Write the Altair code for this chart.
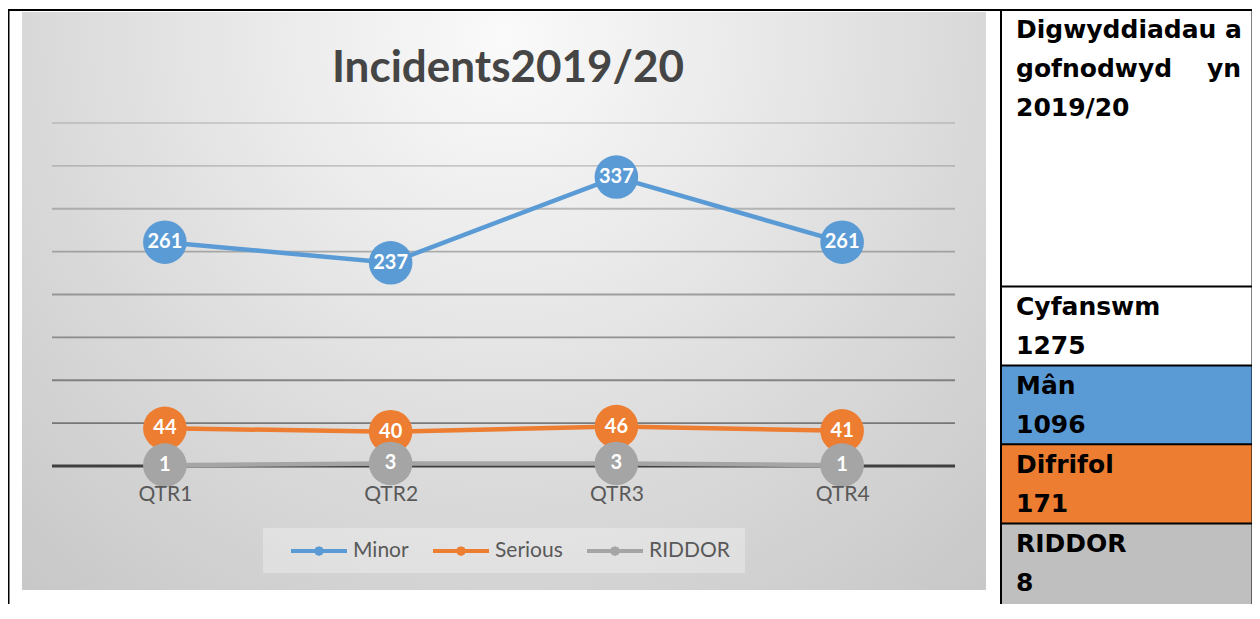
import altair as alt
import pandas as pd

# ---------------- data ----------------
quarters = ["QTR1", "QTR2", "QTR3", "QTR4"]
series_names = ["Minor", "Serious", "RIDDOR"]
minor = [261, 237, 337, 261]
serious = [44, 40, 46, 41]
riddor = [1, 3, 3, 1]
series_colors = ["#5B9BD5", "#ED7D31", "#A5A5A5"]
grid_values = [50, 100, 150, 200, 250, 300, 350, 400]
axis_values = [0]
title_text = "Incidents2019/20"
header_lines = ["Digwyddiadau a", "gofnodwyd yn", "2019/20"]
summary_labels = ["Cyfanswm", "Mân", "Difrifol", "RIDDOR"]
summary_fills = ["#FFFFFF", "#5B9BD5", "#ED7D31", "#BFBFBF"]

rows = []
for name, vals in zip(series_names, [minor, serious, riddor]):
    for q, v in zip(quarters, vals):
        rows.append({"quarter": q, "series": name, "value": v})
df = pd.DataFrame(rows)
totals = [sum(minor) + sum(serious) + sum(riddor), sum(minor), sum(serious), sum(riddor)]

# ---------------- layout ----------------
W, H = 903, 343          # plot area
PL, PT = 44, 115         # plot origin inside canvas
CW, CH = 1244, 596       # canvas size


def px(X):
    return X - 52


def py(Y):
    return Y - 123


one = pd.DataFrame({"k": [0]})
yscale = alt.Scale(domain=[0, 400], nice=False, zero=True)

x_enc = alt.X(
    "quarter:N",
    sort=quarters,
    scale=alt.Scale(type="point", padding=0.5),
    axis=alt.Axis(title=None, labelAngle=0, ticks=False, domain=False, grid=False,
                  labelFont="Lato", labelFontSize=21, labelColor="#595959",
                  labelPadding=17, zindex=1),
)
y_enc = alt.Y("value:Q", scale=yscale, axis=None)

gradient = alt.RadialGradient(
    gradient="radial",
    x1=0.5, y1=0.17, r1=0,
    x2=0.5, y2=0.17, r2=0.75,
    stops=[
        alt.GradientStop(offset=0, color="#FAFAFA"),
        alt.GradientStop(offset=0.35, color="#E9E9E9"),
        alt.GradientStop(offset=0.65, color="#D9D9D9"),
        alt.GradientStop(offset=1, color="#C8C8C8"),
    ],
)

bg = alt.Chart(one).mark_rect(fill=gradient).encode(
    x=alt.value(px(22)), x2=alt.value(px(986)), y=alt.value(-250), y2=alt.value(714)
)
cover_top = alt.Chart(one).mark_rect(fill="white").encode(
    x=alt.value(-50), x2=alt.value(1210), y=alt.value(-260), y2=alt.value(py(12))
)
cover_bottom = alt.Chart(one).mark_rect(fill="white").encode(
    x=alt.value(-50), x2=alt.value(1210), y=alt.value(py(590)), y2=alt.value(720)
)
legend_box = alt.Chart(one).mark_rect(fill="white", opacity=0.3).encode(
    x=alt.value(px(263)), x2=alt.value(px(745)), y=alt.value(py(528)), y2=alt.value(py(573))
)

grid = alt.Chart(pd.DataFrame({"g": grid_values})).mark_rule(color="#505050", strokeWidth=1.8).encode(
    y=alt.Y("g:Q", scale=yscale, axis=None),
    x=alt.value(0), x2=alt.value(W),
    opacity=alt.Opacity("g:Q", scale=alt.Scale(domain=[50, 400], range=[0.7, 0.18]), legend=None),
)
zero_rule = alt.Chart(pd.DataFrame({"z": axis_values})).mark_rule(color="#404040", strokeWidth=3).encode(
    y=alt.Y("z:Q", scale=yscale, axis=None), x=alt.value(0), x2=alt.value(W)
)

legend_path = ("M-1,0L1,0M0.1,0L0.071,0.071L0,0.1L-0.071,0.071L-0.1,0"
               "L-0.071,-0.071L0,-0.1L0.071,-0.071Z")
lines = alt.Chart(df).mark_line(strokeWidth=4.5, strokeCap="round").encode(
    x=x_enc, y=y_enc,
    stroke=alt.Stroke(
        "series:N",
        scale=alt.Scale(domain=series_names, range=series_colors),
        legend=alt.Legend(title=None, orient="none", legendX=237, legendY=398,
                          direction="horizontal", symbolType=legend_path, symbolSize=3136,
                          symbolStrokeWidth=4, labelFont="Lato", labelFontSize=21,
                          labelColor="#595959", labelOffset=4, columnPadding=16,
                          padding=0, symbolOffset=0),
    ),
)
points = alt.Chart(df).mark_circle(size=1900, opacity=1).encode(
    x=x_enc, y=y_enc,
    color=alt.Color("series:N", scale=alt.Scale(domain=series_names, range=series_colors), legend=None),
)
labels = alt.Chart(df).mark_text(font="Lato", fontWeight="bold", fontSize=20, color="white",
                                 baseline="middle", align="center").encode(
    x=x_enc, y=y_enc, text="value:Q"
)

title = alt.Chart(one).mark_text(text=title_text, font="Lato", fontWeight="bold", fontSize=44,
                                 color="#454545", align="center", baseline="middle").encode(
    x=alt.value(px(508)), y=alt.value(py(69))
)

# ---------------- table at right ----------------
row_tops = [287, 366, 445, 524]
row_bottoms = [365, 444, 523, 700]
table_layers = []
for fill, top, bot in zip(summary_fills, row_tops, row_bottoms):
    table_layers.append(alt.Chart(one).mark_rect(fill=fill).encode(
        x=alt.value(px(1001)), x2=alt.value(px(1253)), y=alt.value(py(top)), y2=alt.value(py(bot))
    ))


def hline(Y, X1, X2):
    return alt.Chart(one).mark_rule(color="black", strokeWidth=2).encode(
        x=alt.value(px(X1)), x2=alt.value(px(X2)), y=alt.value(py(Y)))


def vline(X, Y1, Y2):
    return alt.Chart(one).mark_rule(color="black", strokeWidth=2).encode(
        x=alt.value(px(X)), y=alt.value(py(Y1)), y2=alt.value(py(Y2)))


table_layers += [
    hline(10, 7, 1254),
    vline(8.5, 9, 700),
    vline(1252.5, 9, 700),
    vline(1001, 9, 700),
]
for Y in [286.5, 365.5, 444.3, 523.5]:
    table_layers.append(hline(Y, 1001, 1253))

tfont = dict(font="DejaVu Sans", fontWeight="bold", fontSize=25, color="black", baseline="middle")


def ttext(s, X, Y, align="left"):
    return alt.Chart(one).mark_text(text=s, align=align, **tfont).encode(
        x=alt.value(px(X)), y=alt.value(py(Y)))


header_y = [30, 69, 108]
for i, line in enumerate(header_lines):
    words = line.split()
    if i == 1 and len(words) > 1:
        table_layers.append(ttext(" ".join(words[:-1]), 1016, header_y[i]))
        table_layers.append(ttext(words[-1], 1241, header_y[i], align="right"))
    else:
        table_layers.append(ttext(line, 1016, header_y[i]))

for lab, tot, top in zip(summary_labels, totals, row_tops):
    table_layers.append(ttext(lab, 1016, top + 20))
    table_layers.append(ttext(str(tot), 1016, top + 59))

chart = alt.layer(
    bg, cover_top, cover_bottom, legend_box, grid, zero_rule, lines, points, labels, title,
    *table_layers
).properties(
    width=W, height=H,
    padding={"left": PL, "top": PT, "right": CW - PL - W, "bottom": CH - PT - H},
    autosize=alt.AutoSizeParams(type="none"),
    background="white",
).configure_view(stroke=None)

chart.save("out.html", embed_options={"renderer": "svg", "actions": False})
